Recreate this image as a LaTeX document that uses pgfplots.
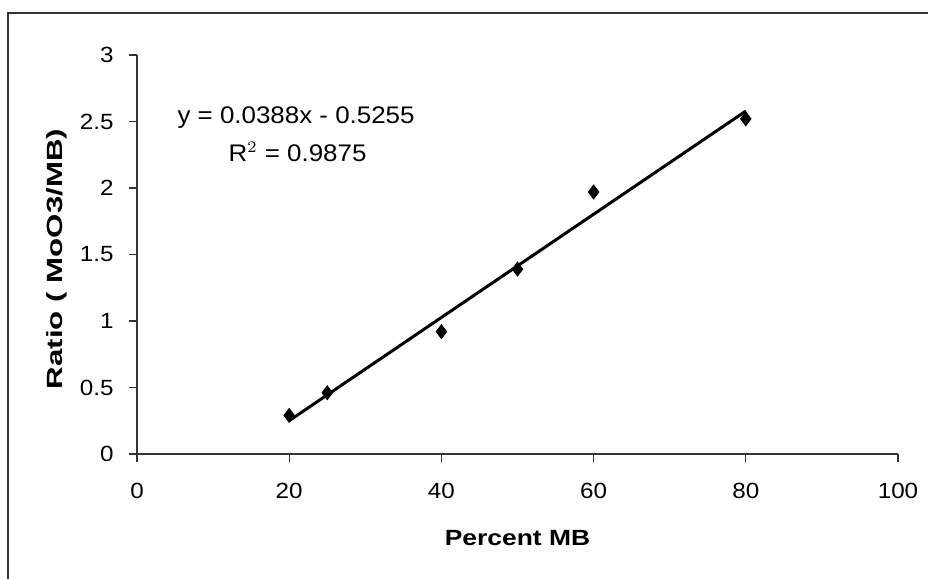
\documentclass[border=0pt]{standalone}
\usepackage{pgfplots}
\pgfplotsset{compat=1.18}
\usepackage{fontspec}
\setmainfont{Liberation Sans}
\begin{document}
\begin{tikzpicture}
\path[use as bounding box] (0pt,0pt) rectangle (464pt,289.5pt);
\draw[line width=0.8pt, black!80] (4pt,0pt) -- (4pt,283pt) -- (464pt,283pt);
\begin{axis}[
  at={(68.5pt,62.5pt)}, anchor=south west,
  scale only axis, width=380.5pt, height=199.5pt,
  xmin=0, xmax=100, ymin=0, ymax=3,
  xtick={0,20,...,100}, ytick={0,0.5,...,3},
  axis lines=left, axis line style={-, line width=0.6pt, black!80},
  tick style={line width=0.6pt, black!80}, tick align=outside,
  major tick length=4pt,
  /pgf/number format/assume math mode=true,
  ticklabel style={font=\fontsize{11}{13}\selectfont, xscale=1.1},
  xticklabel style={yshift=-7pt},
  yticklabel style={xshift=-3.5pt, /pgf/number format/.cd, fixed, precision=1},
  xlabel={\scalebox{1.2}[1]{\bfseries Percent MB}},
  ylabel={\scalebox{1.42}[1]{\bfseries Ratio ( MoO3/MB)}},
  label style={font=\fontsize{11}{13}\selectfont},
  xlabel style={at={(axis description cs:0.5,-0.21)}, anchor=center},
  ylabel style={at={(axis description cs:-0.105,0.489)}, anchor=center},
  clip=false,
]
\addplot[black, line width=1.5pt] coordinates {(20,0.2505) (80,2.5785)};
\addplot[only marks, mark=diamond*, mark size=3.5pt, black] coordinates {
(20,0.29) (25,0.46) (40,0.92) (50,1.39) (60,1.97) (80,2.52)};
\node[font=\fontsize{12}{14}\selectfont, xscale=1.08, anchor=center] at (axis cs:20.9,2.53) {y = 0.0388x - 0.5255};
\node[font=\fontsize{12}{14}\selectfont, xscale=1.08, anchor=center] at (axis cs:21.1,2.27) {R$^2$ = 0.9875};
\end{axis}
\end{tikzpicture}
\end{document}
